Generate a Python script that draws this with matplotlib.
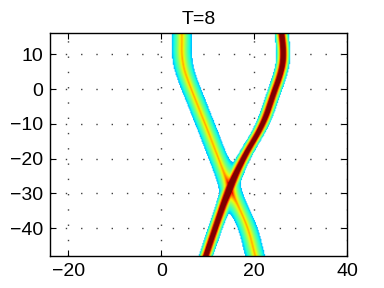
import numpy as np
import matplotlib
matplotlib.use('Agg')
import matplotlib.pyplot as plt

# centre lines of the two beams (x at each y)
y_pts = [-48, -40, -30, -28.5, -20, -10, 0, 5, 8, 10, 16]
beam_a_x = [20.1, 18.6, 15.2, 14.6, 12.2, 9.3, 6.3, 4.9, 4.2, 4.3, 4.3]
beam_b_x = [9.5, 11.5, 14.1, 14.6, 17.5, 21.9, 24.4, 25.8, 26.2, 26.3, 25.8]

# peak level and decay length of each beam
beam_a_peak, beam_a_decay = 0.74, 2.45
beam_b_peak, beam_b_decay = 1.7, 0.93
cutoff = 0.30

x_ticks = [-20, 0, 20, 40]
y_ticks = [-40, -30, -20, -10, 0, 10]

xs = np.linspace(-24, 40, 321)
ys = np.linspace(-48, 16, 321)
xx, yy = np.meshgrid(xs, ys)


def centre_line(xc, win=41):
    # smooth the read points so the path has no corners
    c = np.interp(ys, y_pts, xc)
    padded = np.pad(c, win, mode='reflect', reflect_type='odd')
    kernel = np.ones(win) / win
    return np.convolve(padded, kernel, mode='same')[win:-win]


def beam(xc, peak, decay):
    c = centre_line(xc)[:, None]
    return peak * np.exp(-np.abs(xx - c) / decay)


a = beam(beam_a_x, beam_a_peak, beam_a_decay)
b = beam(beam_b_x, beam_b_peak, beam_b_decay)
field = np.maximum(a, b) + 0.3 * np.minimum(a, b)
field = np.ma.masked_less(field, cutoff)

cmap = plt.get_cmap('jet').copy()
cmap.set_bad((1, 1, 1, 0))

fig = plt.figure(figsize=(3.84, 2.88), dpi=100)
ax = fig.add_axes([0.13, 0.111, 0.774, 0.773])
ax.imshow(field, cmap=cmap, vmin=0, vmax=1, origin='lower',
          extent=[-24, 40, -48, 16], aspect='auto',
          interpolation='bilinear', zorder=1)
ax.set_xlim(-24, 40)
ax.set_ylim(-48, 16)
ax.set_xticks(x_ticks)
ax.set_yticks(y_ticks)
ax.grid(True, color='0.25', linestyle=(0, (1, 10)), linewidth=1.0, zorder=0.5)
ax.set_axisbelow(True)
ax.tick_params(direction='in', top=True, right=True, length=4,
               labelsize=14, pad=5)
for lab in ax.get_xticklabels() + ax.get_yticklabels():
    lab.set_family('Liberation Sans')
for sp in ax.spines.values():
    sp.set_linewidth(1.0)
    sp.set_zorder(3)
ax.set_title('T=8', fontsize=14, family='Liberation Sans', pad=7)

fig.savefig('out.png', dpi=100)
